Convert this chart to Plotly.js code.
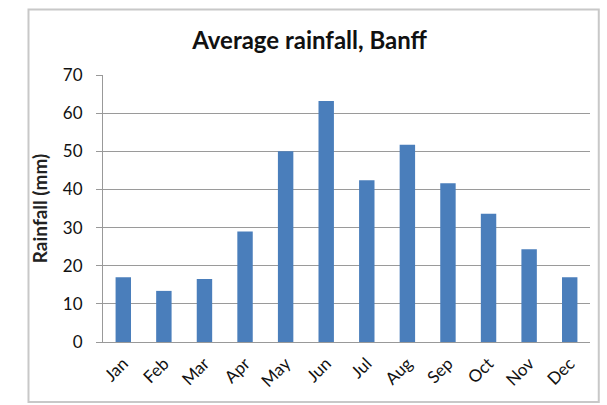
<!DOCTYPE html>
<html><head><meta charset="utf-8">
<script src="https://cdn.plot.ly/plotly-3.0.1.min.js"></script>
<style>html,body{margin:0;padding:0;background:#fff}#c{width:607px;height:405px}</style>
</head><body><div id="c"></div>
<script>
const months = ["Jan","Feb","Mar","Apr","May","Jun","Jul","Aug","Sep","Oct","Nov","Dec"];
const rainfall = [17, 13.4, 16.5, 29, 50, 63.2, 42.4, 51.7, 41.6, 33.6, 24.3, 17];
const yTicks = [0,10,20,30,40,50,60,70];

Plotly.newPlot('c', [{
  type: 'bar', x: months, y: rainfall,
  marker: {color: '#4a7ebb'}, hoverinfo: 'skip'
}], {
  width: 607, height: 405,
  paper_bgcolor: '#fff', plot_bgcolor: '#fff',
  margin: {l: 103, r: 17, t: 75, b: 63},
  font: {family: 'Lato, "Open Sans", sans-serif', color: '#222', size: 16},
  title: {text: '<b>Average rainfall, Banff</b>', font: {size: 24, color: '#111'}, x: 0.51, xanchor: 'center', y: 0.9, yanchor: 'middle'},
  bargap: 0.62,
  xaxis: {tickangle: -45, showline: true, linecolor: '#999', linewidth: 1, ticks: '', ticklabelstandoff: 4, tickfont: {size: 17, color: '#111'}, fixedrange: true},
  yaxis: {range: [0, 70], tickvals: yTicks, showgrid: true, gridcolor: '#9a9a9a', gridwidth: 1, zeroline: false,
          showline: true, linecolor: '#999', linewidth: 1,
          ticks: 'outside', ticklen: 6, tickcolor: '#999', ticklabelstandoff: 10, tickfont: {size: 17, color: '#111'},
          title: {text: '<b>Rainfall (mm)</b>', font: {size: 19}, standoff: 10}, fixedrange: true},
  shapes: [{type: 'rect', xref: 'paper', yref: 'paper', x0: -0.153, x1: 1.018, y0: -0.225, y1: 1.245,
            line: {color: '#c8c8c8', width: 2}}],
  showlegend: false
}, {staticPlot: true});
</script></body></html>
